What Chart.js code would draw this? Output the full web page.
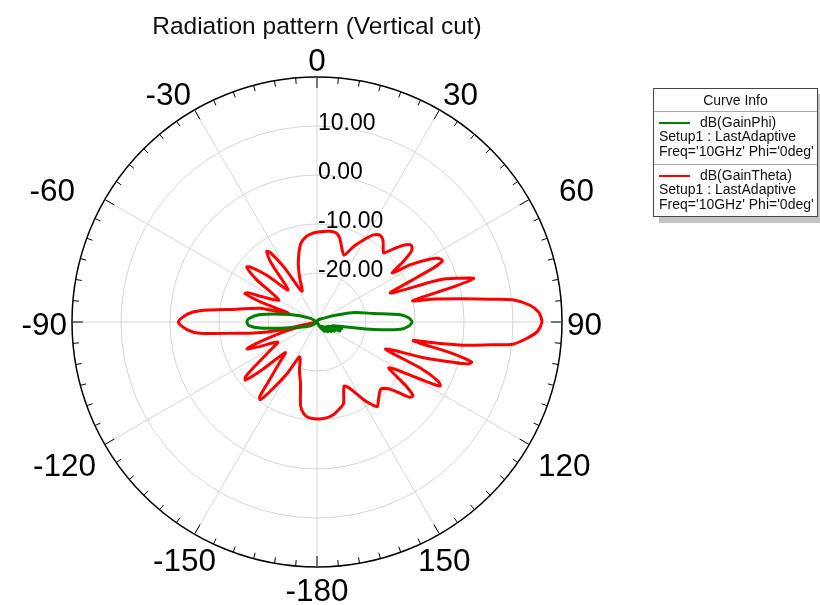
<!DOCTYPE html>
<html>
<head>
<meta charset="utf-8">
<script src="https://cdn.jsdelivr.net/npm/chart.js@4.4.0/dist/chart.umd.min.js"></script>
<style>
  html, body { margin: 0; padding: 0; background: #fff; }
  #wrap { position: relative; width: 820px; height: 605px; overflow: hidden; }
  #legend {
    position: absolute; left: 653px; top: 88px; width: 163px; height: 127px;
    border: 1px solid #444; background: #fff;
    box-shadow: 6px 6px 0 #c4c4c4;
    font-family: "Liberation Sans", Arial, sans-serif; font-size: 14px; color: #111;
  }
  #legend .hdr { height: 22px; line-height: 22px; text-align: center; border-bottom: 1px solid #aaa; }
  #legend .sec { padding: 3px 0 0 5px; line-height: 14.4px; height: 49px; white-space: nowrap; }
  #legend .sec + .sec { border-top: 1px solid #aaa; }
  #legend .sw { display: inline-block; width: 31px; height: 2px; vertical-align: middle; margin-right: 10px; }
</style>
</head>
<body>
<div id="wrap">
  <canvas id="chart" width="820" height="605"></canvas>
  <div id="legend">
    <div class="hdr">Curve Info</div>
    <div class="sec"><span class="sw" style="background:#008000"></span>dB(GainPhi)<br>Setup1 : LastAdaptive<br>Freq='10GHz' Phi='0deg'</div>
    <div class="sec"><span class="sw" style="background:#ff0000"></span>dB(GainTheta)<br>Setup1 : LastAdaptive<br>Freq='10GHz' Phi='0deg'</div>
  </div>
</div>
<script>
// angle (deg, clockwise from top) and gain (dB)
const thetaAngles = [
  0, 4, 8, 12, 15, 18, 22, 26, 30, 33, 36, 39, 42, 44, 46.5, 49, 51, 53, 55, 57,
  58.5, 61, 62.5, 64, 65, 66, 68.5, 71, 73, 74.5, 75.5, 77.5, 79, 81, 82.5, 83.5, 85.5, 87.5, 90,
  92.5, 94.5, 96.5, 97.5, 99, 100, 101, 103, 104.5, 105.5, 106.5, 108.5, 111.5, 114, 116, 117.5, 119, 122.5,
  125.5, 127.5, 129, 130.5, 133, 136.5, 141, 144.5, 146, 149, 153, 157, 162, 166, 170, 175, 180,
  -175, -172, -169, -165, -160, -156, -153, -150, -146, -144, -142.5, -141, -137, -134, -131, -129, -127.5,
  -125, -121, -117, -113, -111, -109, -106, -104, -102, -100, -98, -95.5, -93.5, -90, -86.5,
  -84.5, -81, -76.5, -73, -70.5, -68.5, -67, -65, -60, -55, -52, -50.5, -47, -42, -38, -35.5, -34, -31,
  -26, -21, -17.5, -12, -7, -3
];
const thetaGain = [
  -11.7, -11.5, -11.3, -11.4, -12.2, -13.8, -15.3, -12.8, -10.5, -8.8, -8.1, -8.6, -9.8, -10.4, -8.2, -6.0, -5.2, -5.8, -8.5, -11.7,
  -7.6, -3.5, -1.9, -1.5, -3.5, -7.8, -13.9, -3.5, 0.5, 3.2, -1.0, -10.0, -5.5, 0.2, 5.7, 10.2, 13.6, 15.3, 15.9,
  15.0, 12.9, 10.2, 5.7, 0.2, -5.0, -10.0, -2.0, 2.6, 2.0, -1.0, -7.0, -15.0, -7.0, -2.5, -1.7, -6.0, -12.6,
  -8.0, -5.3, -5.6, -7.5, -10.0, -11.1, -10.0, -8.8, -9.5, -11.5, -14.5, -15.8, -12.5, -11.6, -10.8, -10.3, -10.2,
  -10.4, -11.0, -12.5, -17.0, -19.5, -21.6, -22.0, -18.0, -13.0, -10.4, -10.8, -14.0, -19.0, -21.0, -15.0, -11.2, -11.6,
  -15.0, -19.0, -21.0, -17.0, -14.7, -18.0, -24.0, -30.0, -22.0, -17.0, -13.5, -6.0, -3.5, -1.7, -3.5,
  -6.0, -13.4, -18.0, -24.0, -18.0, -14.2, -14.8, -18.0, -21.0, -15.0, -11.8, -12.3, -16.0, -21.2, -15.0, -12.3, -12.8, -17.0,
  -23.0, -20.0, -17.3, -13.8, -12.4, -11.9
];
const phiAngles = [
  0, 30, 60, 70, 76, 81.5, 85, 87.5, 90, 92.5, 95, 97.5, 100, 103, 106, 109, 112, 115, 118, 121, 124, 128,
  132, 136, 140, 150, 180,
  -150, -120, -102, -96, -93, -90, -87, -82.5, -74.5, -60, -30
];
const phiGain = [
  -30, -29.5, -28.5, -26, -22, -18.3, -12.9, -11.2, -10.6, -11.2, -12.9, -18.3, -24.5, -26.8, -24.8, -27.5, -25, -27.8, -26, -28, -26.5, -28.5,
  -27, -28.8, -27.5, -28.8, -30,
  -30, -28.5, -24.4, -18.3, -16.1, -15.7, -16.1, -18.3, -24.3, -28.5, -30
];
const radialTicks = [-20, -10, 0, 10];
const angleTicks = [0, 30, 60, 90, 120, 150, 180, 210, 240, 270, 300, 330];

const STEP = 0.5;
const labels = [];
for (let i = 0; i < 360 / STEP; i++) labels.push(i * STEP);

function toSeries(angles, gains) {
  const out = new Array(labels.length).fill(null);
  angles.forEach((a, k) => {
    const idx = Math.round((((a % 360) + 360) % 360) / STEP) % labels.length;
    out[idx] = gains[k];
  });
  return out;
}

const FONT = "'Liberation Sans', Arial, sans-serif";

// where the angle labels sit: near-edge x offset and y offset of text middle, right half
const labelPlace = { 0: [0, -260], 30: [126, -226], 60: [242, -130], 90: [250, 4], 120: [221, 145], 150: [101, 240], 180: [0, 270] };

// outer tick marks, angle labels and dB labels
const polarDecor = {
  id: "polarDecor",
  beforeDatasetsDraw(chart) {
    const r = chart.scales.r;
    const ctx = chart.ctx;
    const R = r.drawingArea;
    ctx.save();
    ctx.strokeStyle = "#000";
    ctx.lineWidth = 1;
    for (let a = 0; a < 360; a += 5) {
      const len = a % 30 === 0 ? 11 : 6;
      const p1 = r.getPointPosition(a / STEP, R);
      const p2 = r.getPointPosition(a / STEP, R - len);
      ctx.beginPath();
      ctx.moveTo(p1.x, p1.y);
      ctx.lineTo(p2.x, p2.y);
      ctx.stroke();
    }
    // angle labels
    ctx.fillStyle = "#000";
    ctx.font = "31.5px " + FONT;
    ctx.textBaseline = "middle";
    angleTicks.forEach(a => {
      const txt = String(a >= 180 ? a - 360 : a);
      const key = a > 180 ? 360 - a : a;
      const [dx, dy] = labelPlace[key];
      if (a === 0 || a === 180) {
        ctx.textAlign = "center";
        ctx.fillText(txt, r.xCenter, r.yCenter + dy);
      } else if (a < 180) {
        ctx.textAlign = "left";
        ctx.fillText(txt, r.xCenter + dx, r.yCenter + dy);
      } else {
        ctx.textAlign = "right";
        ctx.fillText(txt, r.xCenter - dx, r.yCenter + dy);
      }
    });
    // dB labels
    ctx.font = "23px " + FONT;
    ctx.textAlign = "left";
    radialTicks.forEach(v => {
      const d = r.getDistanceFromCenterForValue(v);
      ctx.fillText(v.toFixed(2), r.xCenter + 1, r.yCenter - d - 2);
    });
    ctx.restore();
  }
};

new Chart(document.getElementById("chart"), {
  type: "radar",
  data: {
    labels: labels,
    datasets: [
      {
        label: "dB(GainPhi)",
        data: toSeries(phiAngles, phiGain),
        borderColor: "#008000",
        borderWidth: 3,
        fill: false,
        pointRadius: 0,
        spanGaps: true,
        tension: 0.25
      },
      {
        label: "dB(GainTheta)",
        data: toSeries(thetaAngles, thetaGain),
        borderColor: "#ff0000",
        borderWidth: 3,
        fill: false,
        pointRadius: 0,
        spanGaps: true,
        tension: 0.25
      }
    ]
  },
  options: {
    responsive: false,
    animation: false,
    layout: { padding: { left: 72, right: 258, top: 0, bottom: 37 } },
    plugins: {
      legend: { display: false },
      tooltip: { enabled: false },
      title: {
        display: true,
        text: "Radiation pattern (Vertical cut)",
        color: "#111",
        font: { family: FONT, size: 24.5, weight: "normal" },
        padding: { top: 13, bottom: 35 }
      }
    },
    scales: {
      r: {
        min: -30,
        max: 20,
        startAngle: 0,
        ticks: { display: false, stepSize: 10 },
        pointLabels: { display: false },
        grid: {
          circular: true,
          color: c => (c.tick && c.tick.value === 20 ? "#000" : "#d6d6d6"),
          lineWidth: c => (c.tick && c.tick.value === 20 ? 1.5 : 1)
        },
        angleLines: {
          color: "#d6d6d6",
          lineWidth: c => (c.index % (30 / STEP) === 0 ? 1 : 0)
        }
      }
    }
  },
  plugins: [polarDecor]
});
</script>
</body>
</html>
